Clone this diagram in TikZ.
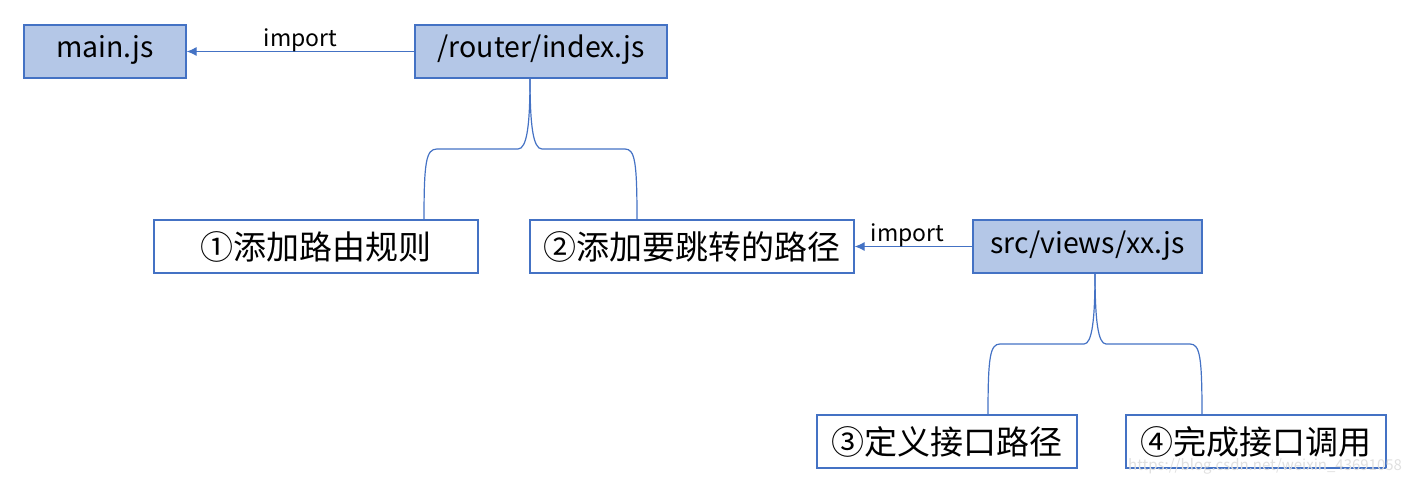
\documentclass[tikz,border=0pt]{standalone}
\usepackage{fontspec}
\setmainfont{Noto Sans CJK SC}
\usetikzlibrary{arrows.meta,calc}
\definecolor{bfill}{HTML}{B4C7E7}
\definecolor{bline}{HTML}{4472C4}
\tikzset{
  box/.style={draw=bline,line width=1.2pt,minimum height=53pt,inner sep=0pt,font=\fontsize{28.5}{32}\selectfont,text=black},
  filled/.style={box,fill=bfill,text height=19pt,text depth=6pt},
  plain/.style={box,fill=white,font=\fontsize{33}{36}\selectfont},
  conn/.style={draw=bline,line width=1.2pt},
  arr/.style={conn,-{Latex[length=10pt,width=9pt]}},
  lbl/.style={font=\fontsize{23}{25}\selectfont,text=black,inner sep=0pt}
}
\begin{document}
\begin{tikzpicture}[x=1pt,y=-1pt]
\useasboundingbox (0,0) rectangle (1405,484);
\node[filled,minimum width=162pt] (main) at (105,51.5) {main.js};
\node[filled,minimum width=252pt] (router) at (541,51.5) {/router/index.js};
\node[plain,minimum width=324pt] (b1) at (316,246.5) {①添加路由规则};
\node[plain,minimum width=324pt] (b2) at (692,246.5) {②添加要跳转的路径};
\node[filled,minimum width=229pt] (src) at (1087.5,246.5) {src/views/xx.js};
\node[plain,minimum width=260pt] (b3) at (947,441.5) {③定义接口路径};
\node[plain,minimum width=260pt] (b4) at (1256,441.5) {④完成接口调用};

\draw[arr] (router.west) -- (main.east) node[lbl,midway,above=-1pt] {import};
\draw[arr] (src.west) -- (b2.east) node[lbl,pos=0.55,above=-1pt] {import};

% brace 1
\coordinate (t1) at (530,78);
\coordinate (l1) at (424,220);
\coordinate (r1) at (637,220);
\draw[conn] (l1) .. controls (424,162) and (426,149) .. (437,149) -- (518,149)
  .. controls (527,149) and (530,125) .. (t1);
\draw[conn] (r1) .. controls (637,162) and (635,149) .. (625,149) -- (542,149)
  .. controls (533,149) and (530,125) .. (t1);
% brace 2
\coordinate (t2) at (1095,273);
\coordinate (l2) at (988,415);
\coordinate (r2) at (1202,415);
\draw[conn] (l2) .. controls (988,357) and (990,344) .. (1000,344) -- (1084,344)
  .. controls (1092,344) and (1095,320) .. (t2);
\draw[conn] (r2) .. controls (1202,357) and (1200,344) .. (1190,344) -- (1106,344)
  .. controls (1098,344) and (1095,320) .. (t2);

\node[font=\fontsize{15}{16}\selectfont,text=black!12,anchor=west,inner sep=0pt] (wm) at (1128,466) {https://blog.csdn.net/weixin\_43691058};
\end{tikzpicture}
\end{document}
